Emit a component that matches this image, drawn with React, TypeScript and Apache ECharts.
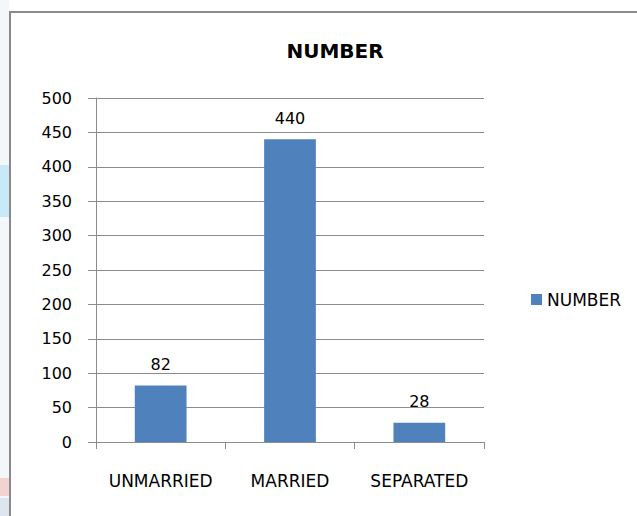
import React, { useEffect, useRef } from "react";
import * as echarts from "echarts";

const categories = ["UNMARRIED", "MARRIED", "SEPARATED"];
const values = [82, 440, 28];
const seriesName = "NUMBER";
const titleText = "NUMBER";

export default function App() {
  const ref = useRef<HTMLDivElement>(null);
  useEffect(() => {
    if (!ref.current) return;
    const chart = echarts.init(ref.current, undefined, { renderer: "svg" });
    const font = "DejaVu Sans";
    chart.setOption({
      animation: false,
      backgroundColor: "#ffffff",
      title: {
        text: titleText,
        left: 330,
        textAlign: "center",
        top: 36,
        textStyle: { fontFamily: font, fontSize: 20, fontWeight: "bold", color: "#000" },
      },
      legend: {
        data: [seriesName],
        left: 526,
        top: 286,
        icon: "rect",
        itemWidth: 11,
        itemHeight: 11,
        textStyle: { fontFamily: font, fontSize: 17, color: "#000" },
      },
      grid: { left: 96, right: 637 - 484, top: 98, bottom: 516 - 442, containLabel: false },
      xAxis: {
        type: "category",
        data: categories,
        axisLine: { lineStyle: { color: "#8c8c8c", width: 1 } },
        axisTick: { show: true, length: 7, lineStyle: { color: "#8c8c8c" } },
        axisLabel: {
          fontFamily: font,
          fontSize: 17,
          color: "#000",
          margin: 30,
          interval: 0,
          hideOverlap: false,
        },
      },
      yAxis: {
        type: "value",
        min: 0,
        max: 500,
        interval: 50,
        axisLine: { show: true, lineStyle: { color: "#8c8c8c", width: 1 } },
        axisTick: { show: true, length: 8, lineStyle: { color: "#8c8c8c" } },
        splitLine: { lineStyle: { color: "#8c8c8c", width: 1 } },
        axisLabel: { fontFamily: font, fontSize: 16, color: "#000", margin: 24 },
      },
      series: [
        {
          name: seriesName,
          type: "bar",
          data: values,
          barWidth: "40%",
          itemStyle: { color: "#4f81bd" },
          label: {
            show: true,
            position: "top",
            distance: 13,
            fontFamily: font,
            fontSize: 16,
            color: "#000",
          },
        },
      ],
      graphic: [
        { type: "rect", shape: { x: 0, y: 0, width: 9, height: 516 }, style: { fill: "#f4f7fa" }, silent: true },
        { type: "rect", shape: { x: 0, y: 165, width: 9, height: 52 }, style: { fill: "#c8e9f8" }, silent: true },
        { type: "rect", shape: { x: 0, y: 478, width: 9, height: 18 }, style: { fill: "#f5d2d2" }, silent: true },
        { type: "rect", shape: { x: 0, y: 498, width: 9, height: 18 }, style: { fill: "#dde5ee" }, silent: true },
        { type: "line", shape: { x1: 10, y1: 12, x2: 10, y2: 516 }, style: { stroke: "#8a8a8a", lineWidth: 2 }, silent: true },
        { type: "line", shape: { x1: 9, y1: 12, x2: 637, y2: 12 }, style: { stroke: "#8a8a8a", lineWidth: 2 }, silent: true },
      ],
    });
    return () => chart.dispose();
  }, []);
  return (
    <div
      ref={ref}
      style={{ position: "absolute", left: 0, top: 0, width: 637, height: 516 }}
    />
  );
}
